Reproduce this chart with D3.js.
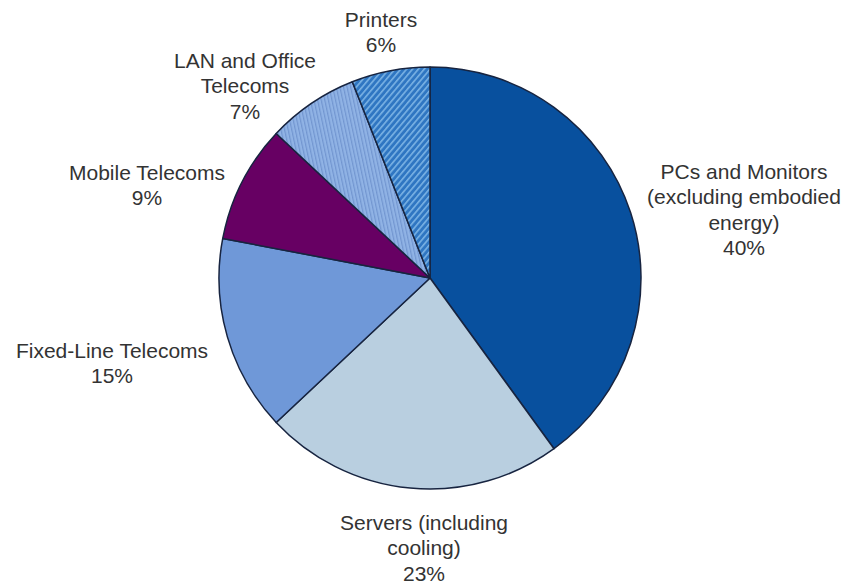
<!DOCTYPE html>
<html>
<head>
<meta charset="utf-8">
<script src="https://cdn.jsdelivr.net/npm/d3@7"></script>
<style>
  html, body { margin: 0; padding: 0; background: #ffffff; }
  svg { display: block; }
</style>
</head>
<body>
<svg id="chart" width="842" height="585"></svg>
<script>
const categories = ["PCs and Monitors (excluding embodied energy)", "Servers (including cooling)", "Fixed-Line Telecoms", "Mobile Telecoms", "LAN and Office Telecoms", "Printers"];
const values = [40, 23, 15, 9, 7, 6];
const labelLines = [
  ["PCs and Monitors", "(excluding embodied", "energy)", "40%"],
  ["Servers (including", "cooling)", "23%"],
  ["Fixed-Line Telecoms", "15%"],
  ["Mobile Telecoms", "9%"],
  ["LAN and Office", "Telecoms", "7%"],
  ["Printers", "6%"]
];
const fills = ["#08509e", "#b9cfe0", "#6f98d8", "#670063", "url(#hatchLan)", "url(#hatchPrinters)"];
// label anchor positions (center x, first baseline y)
const labelPos = [[744, 179], [424, 530], [112, 358], [147, 180], [245, 68], [381, 27]];

const svg = d3.select("#chart");
const defs = svg.append("defs");

const p1 = defs.append("pattern").attr("id", "hatchLan")
  .attr("patternUnits", "userSpaceOnUse").attr("width", 3.5).attr("height", 10)
  .attr("patternTransform", "rotate(-12)");
p1.append("rect").attr("width", 3.5).attr("height", 10).attr("fill", "#90b3e5");
p1.append("rect").attr("width", 1.2).attr("height", 10).attr("fill", "#7296d0");

const p2 = defs.append("pattern").attr("id", "hatchPrinters")
  .attr("patternUnits", "userSpaceOnUse").attr("width", 4.5).attr("height", 10)
  .attr("patternTransform", "rotate(40)");
p2.append("rect").attr("width", 4.5).attr("height", 10).attr("fill", "#2f76c2");
p2.append("rect").attr("width", 1.6).attr("height", 10).attr("fill", "#7ab2e4");

const cx = 430, cy = 278, r = 211;
const pie = d3.pie().sort(null).value(d => d.v);
const arcs = pie(values.map((v, i) => ({v, i})));
const arc = d3.arc().innerRadius(0).outerRadius(r);

const g = svg.append("g").attr("transform", `translate(${cx},${cy})`);
g.selectAll("path").data(arcs).enter().append("path")
  .attr("d", arc)
  .attr("fill", d => fills[d.data.i])
  .attr("stroke", "#172440")
  .attr("stroke-width", 1.5)
  .attr("stroke-linejoin", "round");

const lg = svg.append("g")
  .attr("font-family", "'Liberation Sans', Arial, sans-serif")
  .attr("font-size", 21)
  .attr("fill", "#333333")
  .attr("text-anchor", "middle");

labelLines.forEach((lines, i) => {
  const t = lg.append("text").attr("x", labelPos[i][0]).attr("y", labelPos[i][1]);
  lines.forEach((ln, j) => {
    t.append("tspan").attr("x", labelPos[i][0]).attr("dy", j === 0 ? 0 : 25.3).text(ln);
  });
});
</script>
</body>
</html>
